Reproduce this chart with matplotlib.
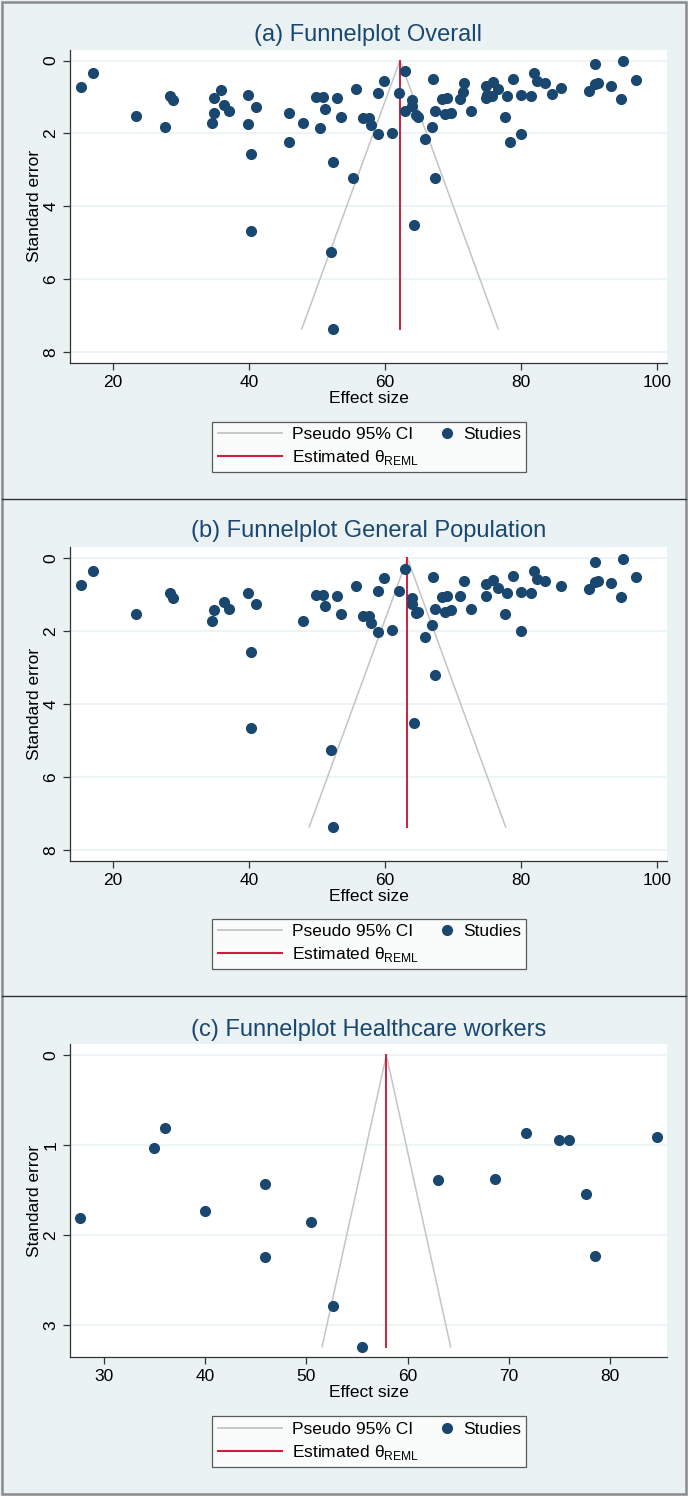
import numpy as np
import matplotlib
matplotlib.use("Agg")
import matplotlib.pyplot as plt
from matplotlib.lines import Line2D
from matplotlib.legend_handler import HandlerLine2D
from matplotlib.patches import Rectangle

plt.rcParams['font.family'] = ['Liberation Sans', 'DejaVu Sans']
plt.rcParams['mathtext.fontset'] = 'custom'
plt.rcParams['mathtext.rm'] = 'Liberation Sans'

# (a) overall
es_all = [15.2, 17.0, 23.4, 27.6, 28.3, 28.8, 34.5, 34.8, 34.8, 35.9, 36.3, 37.0, 39.9, 39.9, 41.0,
          40.3, 45.8, 45.8, 47.9, 49.8, 50.9, 50.4, 51.2, 53.0, 52.4, 53.5, 55.8, 55.3, 56.7, 57.6,
          58.0, 58.9, 59.0, 59.9, 61.1, 62.0, 62.9, 62.9, 63.9, 63.9, 64.6, 64.9, 65.9, 66.9, 67.0,
          67.3, 67.3, 68.4, 68.9, 69.1, 69.7, 71.1, 71.5, 71.6, 72.6, 74.9, 74.9, 75.0, 75.9, 75.8,
          76.7, 77.6, 78.0, 78.4, 78.8, 80.0, 80.0, 81.5, 81.9, 82.4, 83.5, 84.6, 85.9, 90.0, 90.9,
          90.9, 91.4, 93.3, 94.7, 95.0, 97.0, 40.3, 64.2, 52.1, 52.3]
se_all = [0.72, 0.35, 1.53, 1.82, 0.97, 1.08, 1.72, 1.04, 1.45, 0.81, 1.22, 1.39, 0.95, 1.73, 1.28,
          2.57, 1.45, 2.25, 1.72, 1.01, 1.01, 1.84, 1.33, 1.03, 2.80, 1.54, 0.78, 3.23, 1.57, 1.57,
          1.78, 0.90, 2.02, 0.56, 1.99, 0.90, 0.28, 1.39, 1.08, 1.25, 1.50, 1.54, 2.16, 1.82, 0.50,
          1.39, 3.23, 1.05, 1.48, 1.04, 1.45, 1.05, 0.87, 0.61, 1.38, 0.70, 1.04, 0.94, 0.59, 0.96,
          0.79, 1.55, 0.96, 2.23, 0.50, 0.94, 2.01, 0.97, 0.34, 0.55, 0.62, 0.93, 0.75, 0.85, 0.65,
          0.10, 0.61, 0.70, 1.06, 0.02, 0.53, 4.67, 4.53, 5.26, 7.37]
theta_all = 62.2

# (b) general population
es_gen = [15.2, 17.0, 23.4, 28.3, 28.8, 34.5, 34.8, 36.3, 37.0, 39.9, 41.0, 40.3, 47.9, 49.8, 50.9,
          51.2, 53.0, 53.5, 55.8, 56.7, 57.6, 58.0, 58.9, 59.0, 59.9, 61.1, 62.0, 62.9, 63.9, 63.9,
          64.6, 64.9, 65.9, 66.9, 67.0, 67.3, 67.3, 68.4, 68.9, 69.1, 69.7, 71.1, 71.6, 72.6, 74.9,
          74.9, 75.9, 76.7, 77.6, 78.0, 78.8, 80.0, 80.0, 81.5, 81.9, 82.4, 83.5, 85.9, 90.0, 90.9,
          90.9, 91.4, 93.3, 94.7, 95.0, 97.0, 40.3, 64.2, 52.1, 52.3]
se_gen = [0.72, 0.35, 1.52, 0.96, 1.10, 1.72, 1.43, 1.21, 1.39, 0.94, 1.26, 2.57, 1.71, 1.00, 1.00,
          1.32, 1.02, 1.53, 0.77, 1.57, 1.57, 1.77, 0.89, 2.03, 0.55, 1.98, 0.89, 0.28, 1.10, 1.24,
          1.51, 1.47, 2.16, 1.82, 0.50, 1.40, 3.21, 1.06, 1.47, 1.04, 1.41, 1.04, 0.63, 1.38, 0.70,
          1.04, 0.60, 0.81, 1.54, 0.96, 0.49, 0.92, 2.00, 0.96, 0.35, 0.57, 0.62, 0.75, 0.84, 0.64,
          0.09, 0.61, 0.68, 1.07, 0.01, 0.52, 4.65, 4.52, 5.27, 7.37]
theta_gen = 63.3

# (c) healthcare workers
es_hcw = [36.0, 34.9, 45.9, 63.0, 68.65, 71.65, 75.0, 75.9, 77.6, 84.65, 27.66, 40.0, 50.5, 45.9,
          52.6, 55.5, 78.55]
se_hcw = [0.815, 1.03, 1.43, 1.39, 1.38, 0.87, 0.94, 0.94, 1.54, 0.91, 1.81, 1.73, 1.85, 2.24,
          2.79, 3.24, 2.23]
theta_hcw = 57.9

titles = ['(a) Funnelplot Overall', '(b) Funnelplot General Population',
          '(c) Funnelplot Healthcare workers']

BG = '#eaf2f3'
NAVY = '#1a476f'
RED = '#cc1f3f'
GREY = '#c4c4c4'

W, H = 688, 1496
fig = plt.figure(figsize=(W / 100, H / 100), dpi=100, facecolor=BG)


def fx(px):
    return px / W


def fy(py):
    return 1 - py / H


class RightDot(HandlerLine2D):
    # put the single marker near the right end of the handle box
    def get_xdata(self, legend, xdescent, ydescent, width, height, fontsize):
        xm = -xdescent + width - 0.3 * fontsize
        return [xm - 1, xm + 1], [xm]


def panel(top, bottom, es, se, theta, title, xlim, ylim, xticks, yticks, title_y, leg_y):
    ax = fig.add_axes([fx(70.2), fy(bottom), fx(667 - 70.2), (bottom - top) / H])
    ax.set_facecolor('white')
    se_max = max(se)
    ax.plot([theta - 1.96 * se_max, theta, theta + 1.96 * se_max], [se_max, 0, se_max],
            color=GREY, lw=1.1, zorder=2)
    ax.plot([theta, theta], [0, se_max], color=RED, lw=1.4, zorder=3)
    ax.plot(es, se, 'o', color=NAVY, ms=7, mec=NAVY, zorder=4)
    ax.set_xlim(*xlim)
    ax.set_ylim(*ylim)
    ax.set_xticks(xticks)
    ax.set_yticks(yticks)
    ax.grid(axis='y', color=BG, lw=1.2, zorder=0)
    ax.set_axisbelow(True)
    for s in ['top', 'right']:
        ax.spines[s].set_visible(False)
    for s in ['left', 'bottom']:
        ax.spines[s].set_color('#333333')
        ax.spines[s].set_linewidth(0.9)
    ax.tick_params(length=5, width=0.9, color='#333333', labelsize=12.5, labelcolor='black')
    for lab in ax.get_yticklabels():
        lab.set_rotation(90)
        lab.set_va('center')
    ax.set_xlabel('Effect size', fontsize=12.5, labelpad=1)
    ax.set_ylabel('Standard error', fontsize=12.5, labelpad=1)
    fig.text(fx(368.5), fy(title_y), title, ha='center', va='center', fontsize=17, color=NAVY)

    handles = [Line2D([], [], color=GREY, lw=1.3),
               Line2D([], [], color=RED, lw=1.5),
               Line2D([], [], ls='none', marker='o', color=NAVY, ms=7)]
    labels = ['Pseudo 95% CI', r'Estimated θ$_{\mathrm{REML}}$', 'Studies']
    leg = fig.legend(handles, labels, ncol=2, loc='center', bbox_to_anchor=(fx(369.2), fy(leg_y)),
                     fontsize=12.5, frameon=True, fancybox=False, edgecolor='#333333',
                     handlelength=3.7, handletextpad=0.6, columnspacing=-1.8, labelspacing=0.35,
                     borderpad=0.3, handler_map={handles[2]: RightDot()})
    leg.get_frame().set_linewidth(0.9)
    return ax


panel(50, 362.7, es_all, se_all, theta_all, titles[0], (13.67, 101.5), (8.30, -0.29),
      [20, 40, 60, 80, 100], [0, 2, 4, 6, 8], 35, 447)
panel(546.7, 860.7, es_gen, se_gen, theta_gen, titles[1], (13.67, 101.5), (8.30, -0.32),
      [20, 40, 60, 80, 100], [0, 2, 4, 6, 8], 531, 944)
panel(1044.3, 1356.7, es_hcw, se_hcw, theta_hcw, titles[2], (26.66, 85.63), (3.35, -0.12),
      [30, 40, 50, 60, 70, 80], [0, 1, 2, 3], 1030, 1441.7)

# panel separators and outer frame
for yy in [499.3, 995.7]:
    fig.add_artist(Line2D([fx(2), fx(686)], [fy(yy), fy(yy)], color='#333333', lw=1.0))
fig.add_artist(Rectangle((fx(2), fy(1494)), fx(684), (1492) / H, fill=False,
                         edgecolor='#8c8c8c', lw=1.8))

fig.savefig('out.png', dpi=100, facecolor=BG)
